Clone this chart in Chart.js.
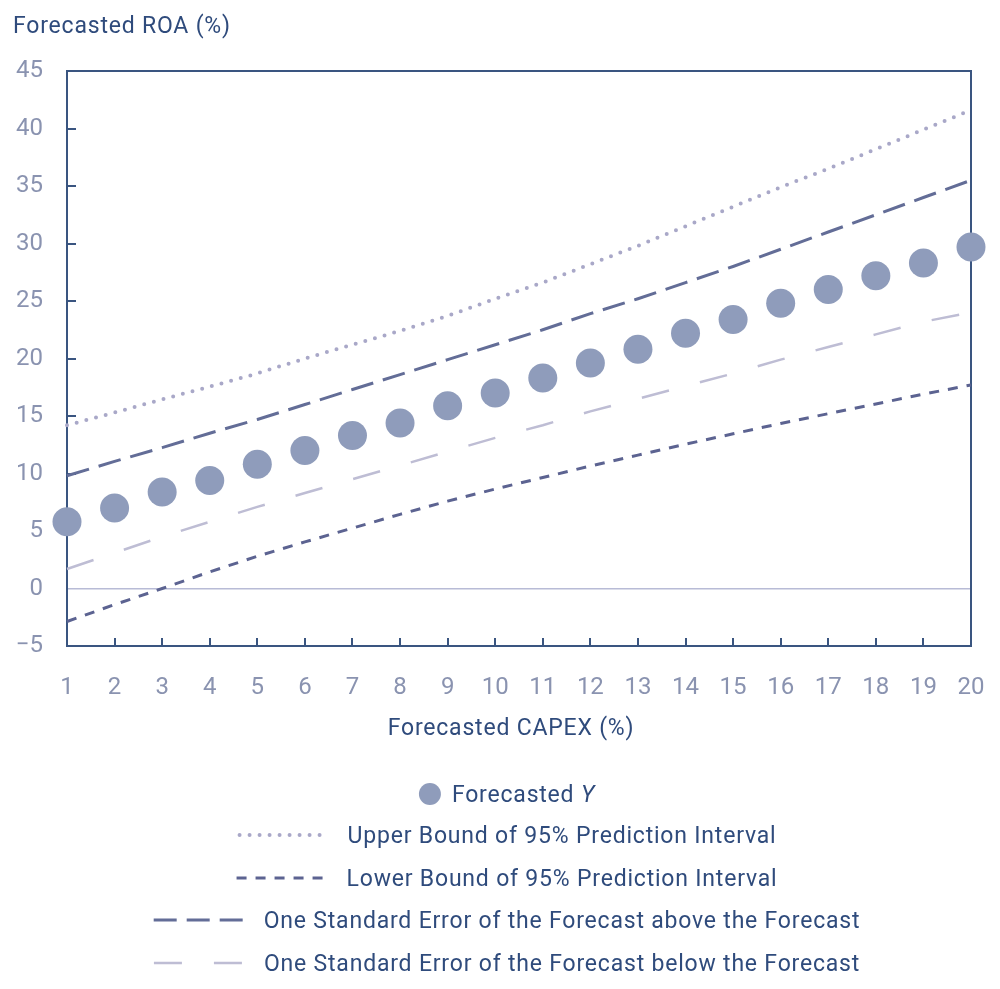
<!DOCTYPE html>
<html><head><meta charset="utf-8">
<script src="https://cdn.jsdelivr.net/npm/chart.js@4"></script>
<style>html,body{margin:0;padding:0;background:#fff}canvas{display:block}</style>
</head><body>
<canvas id="c" width="1000" height="989"></canvas>
<script>
// ---- data ----
const capexLabels = ['1','2','3','4','5','6','7','8','9','10','11','12','13','14','15','16','17','18','19','20'];
const forecastY   = [5.8, 7.0, 8.4, 9.4, 10.8, 12.0, 13.3, 14.4, 15.9, 17.0, 18.3, 19.6, 20.8, 22.2, 23.4, 24.8, 26.0, 27.2, 28.3, 29.7];
const upperPI     = [14.2, 15.3, 16.45, 17.55, 18.7, 20.0, 21.2, 22.4, 23.7, 25.2, 26.6, 28.2, 29.8, 31.5, 33.2, 34.9, 36.5, 38.2, 39.9, 41.6];
const lowerPI     = [-2.87, -1.4, 0.0, 1.45, 2.8, 4.05, 5.25, 6.45, 7.6, 8.65, 9.65, 10.65, 11.6, 12.55, 13.45, 14.35, 15.2, 16.05, 16.9, 17.7];
const seAbove     = [9.8, 11.05, 12.25, 13.5, 14.7, 16.0, 17.3, 18.6, 19.9, 21.2, 22.5, 23.9, 25.2, 26.6, 28.0, 29.5, 31.0, 32.5, 34.0, 35.5];
const seBelow     = [1.7, 3.1, 4.5, 5.8, 7.1, 8.3, 9.5, 10.7, 11.9, 13.1, 14.2, 15.4, 16.5, 17.6, 18.7, 19.9, 21.0, 22.1, 23.2, 24.0];
const yMin = -5, yMax = 45, yStep = 5;
const yTitle = 'Forecasted ROA (%)';
const xTitle = 'Forecasted CAPEX (%)';
const legendLabels = ['Forecasted ', 'Upper Bound of 95% Prediction Interval', 'Lower Bound of 95% Prediction Interval',
  'One Standard Error of the Forecast above the Forecast', 'One Standard Error of the Forecast below the Forecast'];
const legendItalic = 'Y';

// ---- styles ----
const FONT = 'Roboto, "Liberation Sans", sans-serif';
const TXT = '23px ' + FONT;
const TXT_I = 'italic 23px ' + FONT;
const SPACING = '0.8px';
const NAVY = '#2F4B7C';
const TICK = '#8A93B0';
const AXIS = '#3A5580';
const DOT = '#8F9CBB';
const UPPER = '#A9A8C8';
const LOWER = '#5C6391';
const SEUP = '#636D97';
const SELOW = '#BEBDD4';
const ZERO = '#B8BBD6';

const styles = [
  {type:'dot'},
  {color:UPPER, dash:[0,10], width:4, cap:'round'},
  {color:LOWER, dash:[10,9], width:3, cap:'butt'},
  {color:SEUP, dash:[23,10], width:3, cap:'butt'},
  {color:SELOW, dash:[28,32], width:2.5, cap:'butt'}
];

const decor = {
  id: 'decor',
  beforeDatasetsDraw(chart) {
    const {ctx, chartArea: a, scales: {x, y}} = chart;
    ctx.save();
    ctx.strokeStyle = AXIS; ctx.lineWidth = 2; ctx.lineCap = 'butt';
    ctx.beginPath();
    ctx.moveTo(a.left, a.top); ctx.lineTo(a.right, a.top); ctx.lineTo(a.right, a.bottom);
    ctx.stroke();
    ctx.beginPath();
    y.ticks.forEach(t => {
      if (t.value > yMin && t.value < yMax && t.value !== 0) {
        const py = Math.round(y.getPixelForValue(t.value));
        ctx.moveTo(a.left, py); ctx.lineTo(a.left + 9, py);
      }
    });
    x.ticks.forEach((t, i) => {
      if (i > 0 && i < x.ticks.length - 1) {
        const px = Math.round(x.getPixelForTick(i));
        ctx.moveTo(px, a.bottom); ctx.lineTo(px, a.bottom - 8);
      }
    });
    ctx.stroke();
    ctx.restore();
  },
  afterDraw(chart) {
    const {ctx, chartArea: a} = chart;
    ctx.save();
    if ('letterSpacing' in ctx) ctx.letterSpacing = SPACING;
    ctx.fillStyle = NAVY;
    ctx.font = TXT;
    ctx.textBaseline = 'alphabetic';
    ctx.textAlign = 'left';
    ctx.fillText(yTitle, 13, 33);
    ctx.textAlign = 'center';
    ctx.fillText(xTitle, 511, 735);
    // legend
    const centerX = 507, rowY = [794, 835, 878, 920, 963];
    ctx.textAlign = 'left';
    legendLabels.forEach((lab, i) => {
      const st = styles[i];
      ctx.font = TXT;
      let tw = ctx.measureText(lab).width;
      let itw = 0;
      if (i === 0) { ctx.font = TXT_I; itw = ctx.measureText(legendItalic).width; }
      const sw = st.type === 'dot' ? 22 : 90;
      const gap = st.type === 'dot' ? 11 : 20;
      const total = sw + gap + tw + itw;
      const sx = centerX - total / 2;
      const cy = rowY[i];
      if (st.type === 'dot') {
        ctx.fillStyle = DOT;
        ctx.beginPath(); ctx.arc(sx + 11, cy, 11, 0, Math.PI * 2); ctx.fill();
      } else {
        ctx.strokeStyle = st.color; ctx.lineWidth = st.width; ctx.lineCap = st.cap;
        ctx.setLineDash(st.dash);
        ctx.beginPath(); ctx.moveTo(sx + (st.cap === 'round' ? 2 : 0), cy); ctx.lineTo(sx + sw, cy); ctx.stroke();
        ctx.setLineDash([]);
      }
      ctx.fillStyle = NAVY;
      ctx.font = TXT;
      ctx.fillText(lab, sx + sw + gap, cy + 8);
      if (i === 0) {
        ctx.font = TXT_I;
        ctx.fillText(legendItalic, sx + sw + gap + tw, cy + 8);
      }
    });
    ctx.restore();
  }
};

const lineDs = (label, data, st, order) => ({
  label, data, borderColor: st.color, borderWidth: st.width, borderDash: st.dash,
  borderCapStyle: st.cap, pointRadius: 0, pointHoverRadius: 0, fill: false, tension: 0, order
});

new Chart(document.getElementById('c'), {
  type: 'line',
  data: {
    labels: capexLabels,
    datasets: [
      {label: 'Forecasted Y', data: forecastY, showLine: false, pointRadius: 14.5, pointHoverRadius: 14.5,
       pointBackgroundColor: DOT, pointBorderWidth: 0, pointBorderColor: DOT, clip: false, order: 0},
      lineDs(legendLabels[1], upperPI, styles[1], 1),
      lineDs(legendLabels[2], lowerPI, styles[2], 2),
      lineDs(legendLabels[3], seAbove, styles[3], 3),
      lineDs(legendLabels[4], seBelow, styles[4], 4)
    ]
  },
  options: {
    responsive: false,
    animation: false,
    devicePixelRatio: 1,
    layout: {padding: {left: 0, right: 29, top: 71, bottom: 243}},
    plugins: {legend: {display: false}, tooltip: {enabled: false}, title: {display: false}},
    scales: {
      x: {
        offset: false,
        grid: {display: false, drawTicks: false},
        border: {display: true, color: AXIS, width: 2},
        ticks: {color: TICK, font: {family: FONT, size: 24}, padding: 28, maxRotation: 0, autoSkip: false},
        afterFit(s) { s.height = 100; s.paddingLeft = 0; s.paddingRight = 0; }
      },
      y: {
        min: yMin, max: yMax,
        grid: {drawTicks: false, lineWidth: 1.5, color: c => c.tick && c.tick.value === 0 ? ZERO : 'rgba(0,0,0,0)'},
        border: {display: true, color: AXIS, width: 2},
        ticks: {stepSize: yStep, color: TICK, font: {family: FONT, size: 24}, padding: 24,
          callback: v => String(v).replace('-', '\u2212')},
        afterFit(s) { s.width = 67; s.paddingTop = 0; s.paddingBottom = 0; }
      }
    }
  },
  plugins: [decor]
});
</script>
</body></html>
